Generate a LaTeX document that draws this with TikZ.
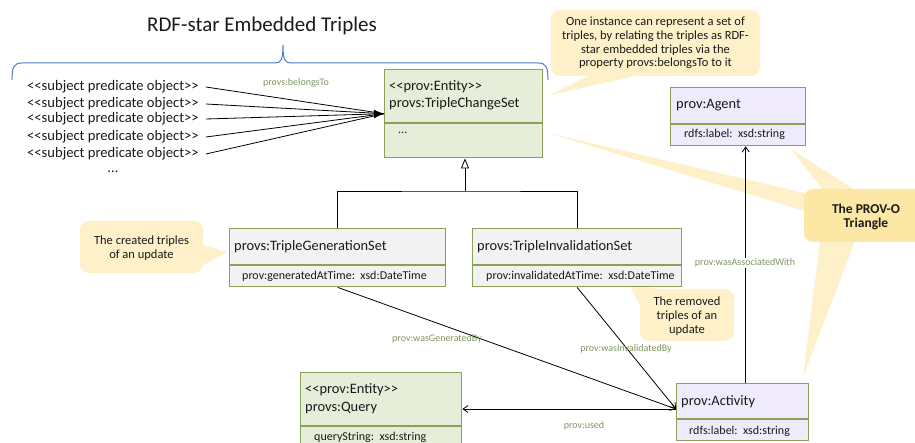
\documentclass[tikz,border=0pt]{standalone}
\usepackage{fontspec}
\setmainfont{Carlito}
\usetikzlibrary{arrows.meta,calc}
\definecolor{boxborder}{HTML}{8AA257}
\definecolor{greenfill}{HTML}{E6EDD9}
\definecolor{lavfill}{HTML}{EFEBFC}
\definecolor{grayfill}{HTML}{F2F2F2}
\definecolor{callfill}{HTML}{FEF1C9}
\definecolor{provofill}{HTML}{FDE7A4}
\definecolor{wedgefill}{HTML}{FEF1C9}
\definecolor{lblcol}{HTML}{7F9560}
\definecolor{bracecol}{HTML}{4A7EC4}
\definecolor{txtcol}{HTML}{1A1A1A}
\newcommand\dlt{<{}<}
\newcommand\dgt{>{}>}
\begin{document}
\begin{tikzpicture}[x=1pt,y=-1pt,
  umlbox/.style={draw=boxborder, line width=1.4pt, anchor=north west, inner sep=0pt},
  divline/.style={draw=boxborder, line width=1.2pt},
  maintxt/.style={anchor=west, inner sep=0pt, text=txtcol, font=\fontsize{14.4}{16}\selectfont},
  attrtxt/.style={anchor=west, inner sep=0pt, text=txtcol, font=\fontsize{12}{14}\selectfont},
  tripletxt/.style={anchor=west, inner sep=1pt, text=txtcol, font=\fontsize{14.6}{16}\selectfont},
  lbl/.style={inner sep=0.5pt, text=lblcol, font=\fontsize{10}{11}\selectfont},
  calltxt/.style={align=center, inner sep=0pt, text=txtcol, font=\fontsize{12.5}{13.7}\selectfont},
  conn/.style={draw=black, line width=0.8pt},
  openarr/.style={conn, -{Straight Barb[length=5pt,width=7pt,line width=0.8pt]}},
]
\useasboundingbox (0,0) rectangle (915,443);
\clip (0,0) rectangle (915,443);

% ---------- title and brace ----------
\node[inner sep=0pt, text=txtcol, font=\fontsize{21}{24}\selectfont] (title) at (262,26) {RDF-star Embedded Triples};
\draw[bracecol, line width=1pt] (12,80) .. controls (12,67) and (14,63) .. (22,63) -- (275,63)
  .. controls (281,63) and (283,60) .. (283,45) .. controls (283,60) and (285,63) .. (291,63)
  -- (538,63) .. controls (546,63) and (548,67) .. (548,80);

% ---------- callouts (behind) ----------
% top callout
\fill[callfill] (590,75) -- (550,95) -- (640,75) -- cycle;
\fill[callfill, rounded corners=9pt] (551,10) rectangle (760,76);
\node[calltxt] (c1) at (655.5,43) {One instance can represent a set of\\triples, by relating the triples as RDF-\\star embedded triples via the\\property provs:belongsTo to it};
% created triples callout
\fill[callfill] (202,245) -- (227,252) -- (202,266) -- cycle;
\fill[callfill, rounded corners=9pt] (80,221) rectangle (203,273);
\node[calltxt] (c2) at (141.5,248.5) {The created triples\\of an update};
% removed triples callout
\fill[callfill] (662,290) -- (628,283) -- (641,307) -- cycle;
\fill[callfill, rounded corners=9pt] (640,289) rectangle (734,341);
\node[calltxt] (c3) at (687,316) {The removed\\triples of an\\update};
% PROV-O callout
\fill[wedgefill] (805,193) -- (548,133) -- (805,211) -- cycle;
\fill[wedgefill] (823,190) -- (791,149) -- (855,190) -- cycle;
\fill[wedgefill] (820,241) -- (803,377) -- (855,241) -- cycle;
\fill[provofill, rounded corners=9pt] (804,189) rectangle (935,242);
\node[calltxt, font=\fontsize{13.5}{14}\bfseries] (c4) at (866,216.5) {The PROV-O\\Triangle};

% ---------- boxes ----------
% TripleChangeSet
\node[umlbox, fill=greenfill, minimum width=158pt, minimum height=88pt] (tcs) at (384,69) {};
\draw[divline] (384,123) -- (542,123);
\node[maintxt] (tcs1) at (389,87) {\dlt prov:Entity\dgt};
\node[maintxt] (tcs2) at (389,104) {provs:TripleChangeSet};
\node[attrtxt] (tcs3) at (398,133) {...};

% Agent
\node[umlbox, fill=lavfill, minimum width=135pt, minimum height=58pt] (agent) at (670,87) {};
\draw[divline] (670,124) -- (805,124);
\node[maintxt] (agent1) at (676,105) {prov:Agent};
\node[attrtxt] (agent2) at (684,134) {rdfs:label:\ \ xsd:string};

% TripleGenerationSet
\node[umlbox, fill=grayfill, minimum width=216pt, minimum height=58pt] (tgs) at (229,228) {};
\draw[divline] (229,265) -- (445,265);
\node[maintxt] (tgs1) at (234,247) {provs:TripleGenerationSet};
\node[attrtxt] (tgs2) at (242,276) {prov:generatedAtTime:\ \ xsd:DateTime};

% TripleInvalidationSet
\node[umlbox, fill=grayfill, minimum width=209pt, minimum height=58pt] (tis) at (472,228) {};
\draw[divline] (472,265) -- (681,265);
\node[maintxt] (tis1) at (477,247) {provs:TripleInvalidationSet};
\node[attrtxt] (tis2) at (486,276) {prov:invalidatedAtTime:\ \ xsd:DateTime};

% Activity
\node[umlbox, fill=lavfill, minimum width=132pt, minimum height=57pt] (act) at (676,383) {};
\draw[divline] (676,419) -- (808,419);
\node[maintxt] (act1) at (681,402) {prov:Activity};
\node[attrtxt] (act2) at (689,431) {rdfs:label:\ \ xsd:string};

% Query
\node[umlbox, fill=greenfill, minimum width=161pt, minimum height=78pt] (query) at (300,372) {};
\draw[divline] (300,426) -- (461,426);
\node[maintxt] (q1) at (305,390) {\dlt prov:Entity\dgt};
\node[maintxt] (q2) at (305,408) {provs:Query};
\node[attrtxt] (q3) at (314,437) {queryString:\ \ xsd:string};

% ---------- triples ----------
\node[tripletxt] (t1) at (26,87) {\dlt subject predicate object\dgt};
\node[tripletxt] (t2) at (26,104) {\dlt subject predicate object\dgt};
\node[tripletxt] (t3) at (26,119) {\dlt subject predicate object\dgt};
\node[tripletxt] (t4) at (26,137) {\dlt subject predicate object\dgt};
\node[tripletxt] (t5) at (26,154) {\dlt subject predicate object\dgt};
\node[tripletxt, anchor=center] (tdots) at (113,172) {...};
\coordinate (tip) at (tcs.west);
\draw[conn] ([xshift=6pt]t1.east) -- (tip);
\draw[conn] ([xshift=6pt]t2.east) -- (tip);
\draw[conn, -{Latex[length=10pt,width=9pt]}] ([xshift=6pt]t3.east) -- (tip);
\draw[conn] ([xshift=6pt]t4.east) -- (tip);
\draw[conn] ([xshift=6pt]t5.east) -- (tip);
\node[lbl] (lbelongs) at (296,83) {provs:belongsTo};

% ---------- inheritance ----------
\coordinate (bar) at (465,191);
\draw[conn] (tgs.north) |- (bar) -| (tis.north);
\draw[conn, -{Triangle[open,length=10pt,width=8pt,line width=0.8pt]}] (bar) -- (bar |- tcs.south);

% ---------- associations ----------
\coordinate (actin) at (676,409);
\draw[openarr] (tgs.south) -- (actin);
\draw[openarr] (tis.south) -- (actin);
\draw[openarr] (actin) -- (actin -| query.east);
\draw[openarr] ([xshift=3pt]act.north) -- ([xshift=3pt]act.north |- agent.south);
\node[lbl] (lgen) at (437,339) {prov:wasGeneratedBy};
\node[lbl] (linv) at (626,349) {prov:wasInvalidatedBy};
\node[lbl] (lused) at (584,426) {prov:used};
\node[lbl, fill=white] (lassoc) at (745,263) {prov:wasAssociatedWith};
\end{tikzpicture}
\end{document}
